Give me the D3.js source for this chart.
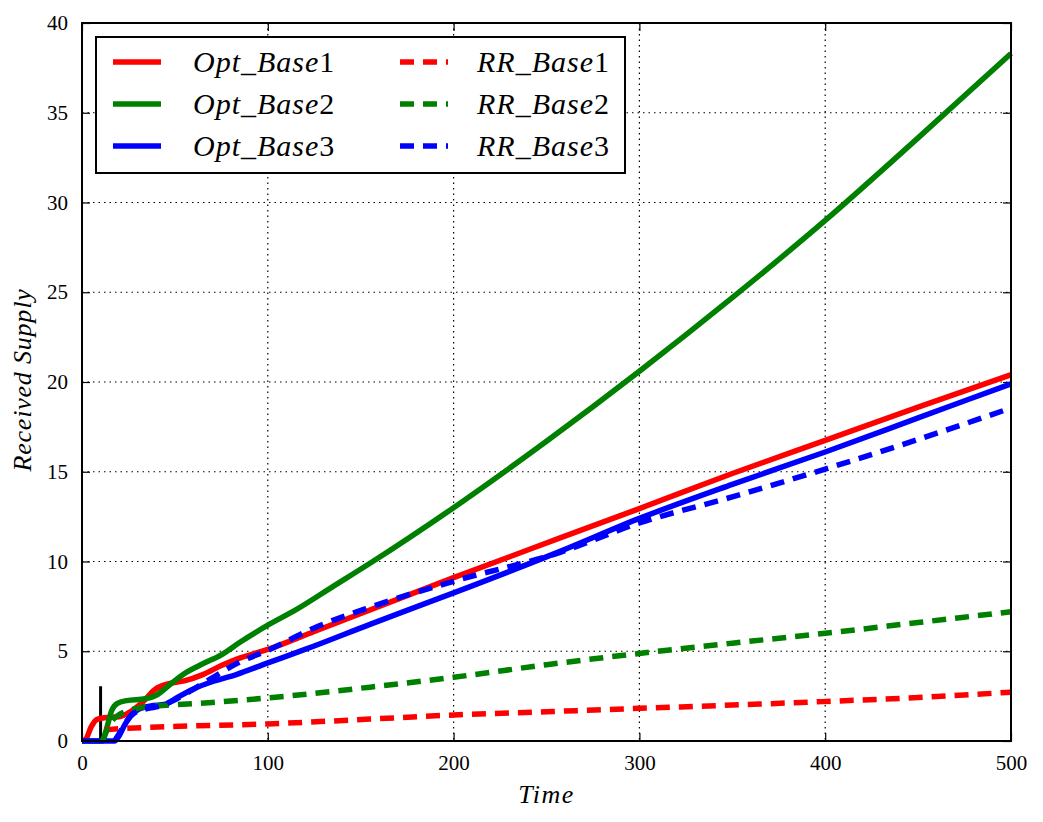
<!DOCTYPE html>
<html>
<head>
<meta charset="utf-8">
<script src="https://cdn.jsdelivr.net/npm/d3@7"></script>
<style>
  body { margin: 0; background: #fff; }
  text { font-family: "Liberation Serif", "DejaVu Serif", serif; fill: #000; }
</style>
</head>
<body>
<svg id="chart"></svg>
<script>
// series values: [time, received supply]
const optBase1 = [[0,0],[2,0.1],[5,0.8],[8,1.2],[12,1.3],[20,1.35],[27,1.7],[33,2.2],[39,2.85],[47,3.2],[55,3.35],[65,3.7],[75,4.2],[83,4.55],[100,5.1],[125,6.1],[155,7.3],[200,9.1],[257,11.3],[300,12.95],[350,14.9],[400,16.75],[450,18.6],[500,20.4]];
const optBase2 = [[0,0],[11,0],[13,0.6],[16,1.7],[19,2.1],[24,2.25],[34,2.35],[40,2.55],[48,3.2],[55,3.75],[65,4.3],[75,4.8],[85,5.5],[100,6.45],[115,7.3],[135,8.6],[155,9.9],[200,13.0],[250,16.7],[300,20.6],[350,24.7],[400,29.0],[450,33.6],[500,38.3]];
const optBase3 = [[0,0],[17.5,0],[20,0.3],[23,0.9],[27,1.5],[31,1.8],[37,1.95],[45,2.05],[50,2.35],[60,2.9],[70,3.3],[83,3.7],[100,4.35],[120,5.1],[155,6.5],[200,8.25],[257,10.55],[300,12.4],[350,14.3],[400,16.1],[450,18.0],[500,19.9]];
const rrBase1 = [[12,0.62],[20,0.68],[47,0.8],[100,0.95],[155,1.22],[200,1.45],[250,1.63],[300,1.82],[350,2.0],[400,2.2],[450,2.42],[500,2.72]];
const rrBase2 = [[11,0],[13,0.5],[16,1.1],[19,1.4],[26,1.72],[35,1.9],[47,2.0],[70,2.15],[100,2.4],[155,3.0],[200,3.55],[250,4.25],[300,4.88],[350,5.45],[400,6.0],[450,6.6],[500,7.2]];
const rrBase3 = [[17.5,0],[20,0.4],[24,1.1],[28,1.55],[35,1.8],[42,1.95],[50,2.3],[61,2.95],[73,3.7],[84,4.35],[100,5.05],[125,6.3],[155,7.45],[200,8.9],[257,10.5],[300,12.15],[350,13.6],[400,15.15],[450,16.8],[500,18.55]];
// black marker line at t = 10
const markerLine = [[10,0],[10,3.05]];

const seriesNames = ["Opt_Base1", "Opt_Base2", "Opt_Base3", "RR_Base1", "RR_Base2", "RR_Base3"];
const seriesColors = ["#ff0000", "#008000", "#0000ff", "#ff0000", "#008000", "#0000ff"];
const xTicks = [0, 100, 200, 300, 400, 500];
const yTicks = [0, 5, 10, 15, 20, 25, 30, 35, 40];

const width = 1043, height = 822;
const margin = { top: 23, right: 32, bottom: 81, left: 82 };
const innerW = width - margin.left - margin.right;
const innerH = height - margin.top - margin.bottom;

const svg = d3.select("#chart")
    .attr("width", width)
    .attr("height", height);

svg.append("rect").attr("width", width).attr("height", height).attr("fill", "#fff");

const g = svg.append("g")
    .attr("transform", `translate(${margin.left}, ${margin.top})`);

const x = d3.scaleLinear().domain([0, 500]).range([0, innerW]);
const y = d3.scaleLinear().domain([0, 40]).range([innerH, 0]);

// dotted grid
g.append("g")
    .selectAll("line")
    .data(xTicks.slice(1, -1))
    .join("line")
    .attr("x1", d => x(d)).attr("x2", d => x(d))
    .attr("y1", 0).attr("y2", innerH)
    .attr("stroke", "#000").attr("stroke-width", 1.2)
    .attr("stroke-dasharray", "1.5,4");

g.append("g")
    .selectAll("line")
    .data(yTicks.slice(1, -1))
    .join("line")
    .attr("x1", 0).attr("x2", innerW)
    .attr("y1", d => y(d)).attr("y2", d => y(d))
    .attr("stroke", "#000").attr("stroke-width", 1.2)
    .attr("stroke-dasharray", "1.5,4");

// axes with inward ticks on all sides
const tickFont = "21px";
g.append("g")
    .attr("transform", `translate(0, ${innerH})`)
    .call(d3.axisBottom(x).tickValues(xTicks).tickSizeInner(-8).tickSizeOuter(0).tickPadding(14))
    .call(a => a.select(".domain").remove())
    .call(a => a.selectAll("line").attr("stroke-width", 1.2))
    .selectAll("text").style("font-size", tickFont).attr("font-family", "Liberation Serif, serif");

g.append("g")
    .call(d3.axisTop(x).tickValues(xTicks).tickSizeInner(-8).tickSizeOuter(0).tickFormat(""))
    .call(a => a.select(".domain").remove())
    .call(a => a.selectAll("line").attr("stroke-width", 1.2));

g.append("g")
    .call(d3.axisLeft(y).tickValues(yTicks).tickSizeInner(-8).tickSizeOuter(0).tickPadding(14))
    .call(a => a.select(".domain").remove())
    .call(a => a.selectAll("line").attr("stroke-width", 1.2))
    .selectAll("text").style("font-size", tickFont).attr("font-family", "Liberation Serif, serif");

g.append("g")
    .attr("transform", `translate(${innerW}, 0)`)
    .call(d3.axisRight(y).tickValues(yTicks).tickSizeInner(-8).tickSizeOuter(0).tickFormat(""))
    .call(a => a.select(".domain").remove())
    .call(a => a.selectAll("line").attr("stroke-width", 1.2));

// lines
const line = d3.line()
    .x(d => x(d[0]))
    .y(d => y(d[1]))
    .curve(d3.curveMonotoneX);

const plot = g.append("g");

plot.append("path")
    .datum(markerLine)
    .attr("d", d3.line().x(d => x(d[0])).y(d => y(d[1])))
    .attr("stroke", "#000").attr("stroke-width", 3).attr("fill", "none");

const allSeries = [optBase1, optBase2, optBase3, rrBase1, rrBase2, rrBase3];
allSeries.forEach((s, i) => {
    plot.append("path")
        .datum(s)
        .attr("d", line)
        .attr("fill", "none")
        .attr("stroke", seriesColors[i])
        .attr("stroke-width", 5.5)
        .attr("stroke-dasharray", i >= 3 ? "14,9" : null);
});

// frame
g.append("rect")
    .attr("width", innerW).attr("height", innerH)
    .attr("fill", "none").attr("stroke", "#000").attr("stroke-width", 2);

// axis titles
svg.append("text")
    .attr("x", margin.left + innerW / 2)
    .attr("y", 803)
    .attr("text-anchor", "middle")
    .style("font-size", "26px")
    .style("font-style", "italic")
    .style("letter-spacing", "1.5px")
    .text("Time");

svg.append("text")
    .attr("transform", `translate(31, ${margin.top + innerH / 2 - 2}) rotate(-90)`)
    .attr("text-anchor", "middle")
    .style("font-size", "26px")
    .style("font-style", "italic")
    .style("letter-spacing", "0.8px")
    .text("Received Supply");

// legend
const legend = svg.append("g");
legend.append("rect")
    .attr("x", 96).attr("y", 37)
    .attr("width", 529).attr("height", 136)
    .attr("fill", "#fff").attr("stroke", "#000").attr("stroke-width", 2);

const rowY = [62, 104, 146];
seriesNames.forEach((name, i) => {
    const col = i < 3 ? 0 : 1;
    const ry = rowY[i % 3];
    const lx = col === 0 ? 113 : 400;
    legend.append("line")
        .attr("x1", lx).attr("x2", lx + 48)
        .attr("y1", ry).attr("y2", ry)
        .attr("stroke", seriesColors[i]).attr("stroke-width", 5.5)
        .attr("stroke-dasharray", col === 1 ? "14,9" : null);
    const parts = name.split("Base");
    const t = legend.append("text")
        .attr("x", col === 0 ? 193 : 477)
        .attr("y", ry + 10)
        .style("font-size", "30px")
        .style("letter-spacing", "1px");
    t.append("tspan").style("font-style", "italic").text(parts[0] + "Base");
    t.append("tspan").text(parts[1]);
});
</script>
</body>
</html>
